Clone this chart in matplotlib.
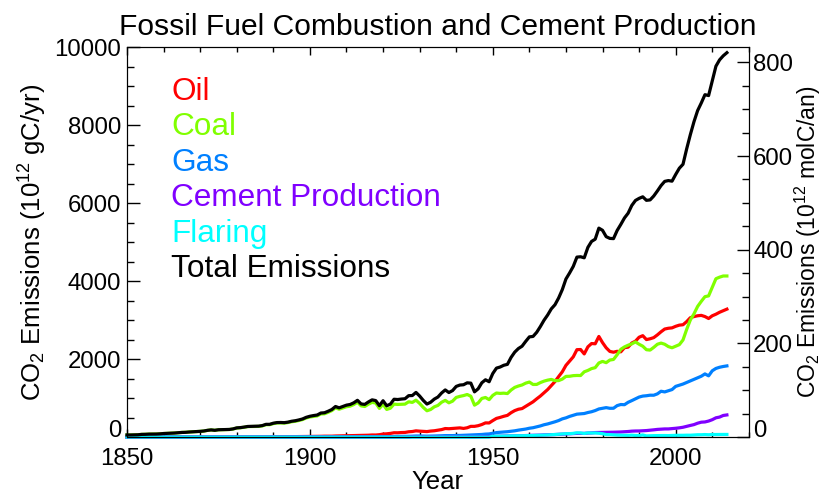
import matplotlib
matplotlib.use('Agg')
import matplotlib.pyplot as plt
from matplotlib.ticker import MultipleLocator

plt.rcParams['font.family'] = ['Liberation Sans', 'DejaVu Sans']
plt.rcParams['mathtext.fontset'] = 'custom'
plt.rcParams['mathtext.rm'] = 'Liberation Sans'
plt.rcParams['mathtext.it'] = 'Liberation Sans:italic'

# annual emissions 1850-2014, 10^12 gC/yr (one line per decade)
years = list(range(1850, 2015))

total = [
    54, 54, 57, 59, 69, 71, 76, 77, 78, 83,
    91, 95, 97, 104, 112, 119, 122, 130, 135, 142,
    147, 156, 173, 184, 174, 188, 191, 194, 196, 210,
    236, 243, 256, 272, 275, 277, 281, 295, 327, 327,
    356, 372, 374, 370, 383, 406, 419, 440, 465, 507,
    534, 552, 566, 617, 624, 663, 707, 784, 750, 785,
    819, 836, 879, 943, 850, 838, 901, 955, 936, 806,
    932, 803, 845, 970, 963, 975, 983, 1062, 1065, 1145,
    1053, 940, 847, 893, 973, 1027, 1130, 1209, 1142, 1192,
    1299, 1334, 1342, 1391, 1383, 1160, 1238, 1392, 1469, 1419,
    1630, 1768, 1796, 1841, 1865, 2043, 2178, 2270, 2330, 2454,
    2569, 2580, 2686, 2833, 2995, 3130, 3288, 3393, 3566, 3780,
    4053, 4208, 4376, 4614, 4623, 4596, 4864, 5016, 5074, 5357,
    5301, 5138, 5094, 5088, 5297, 5452, 5618, 5740, 5938, 6066,
    6120, 6160, 6070, 6080, 6180, 6310, 6448, 6556, 6576, 6561,
    6733, 6893, 6994, 7388, 7751, 8085, 8371, 8566, 8778, 8756,
    9137, 9508, 9671, 9775, 9855,
]

oil = [
    0, 0, 0, 0, 0, 0, 0, 0, 0, 0,
    0, 0, 0, 0, 0, 0, 0, 0, 0, 0,
    1, 1, 1, 1, 1, 1, 1, 2, 2, 3,
    3, 4, 4, 3, 4, 4, 5, 5, 5, 6,
    8, 9, 9, 10, 9, 11, 12, 13, 13, 14,
    16, 18, 19, 20, 23, 23, 23, 28, 30, 32,
    34, 36, 37, 41, 42, 45, 48, 54, 53, 61,
    78, 84, 94, 111, 110, 116, 119, 136, 143, 160,
    152, 147, 141, 154, 162, 176, 192, 219, 214, 222,
    229, 236, 222, 239, 275, 275, 292, 322, 364, 362,
    423, 479, 504, 533, 557, 625, 679, 714, 731, 789,
    849, 904, 980, 1052, 1137, 1219, 1323, 1423, 1551, 1673,
    1839, 1947, 2057, 2241, 2245, 2132, 2314, 2398, 2392, 2580,
    2422, 2289, 2196, 2176, 2199, 2186, 2293, 2306, 2412, 2459,
    2560, 2600, 2500, 2520, 2550, 2620, 2700, 2770, 2790, 2800,
    2840, 2870, 2880, 2960, 3060, 3090, 3110, 3120, 3090, 3040,
    3110, 3150, 3200, 3240, 3280,
]

coal = [
    54, 54, 57, 59, 69, 71, 76, 77, 78, 83,
    91, 95, 97, 104, 112, 119, 122, 130, 135, 142,
    146, 155, 172, 183, 173, 187, 190, 192, 194, 207,
    233, 239, 252, 269, 271, 272, 274, 287, 317, 318,
    345, 361, 363, 358, 372, 393, 405, 425, 450, 490,
    515, 530, 543, 593, 597, 635, 679, 751, 715, 747,
    778, 793, 834, 894, 800, 784, 843, 890, 873, 735,
    843, 709, 740, 845, 837, 842, 845, 905, 889, 947,
    863, 760, 675, 707, 775, 812, 893, 941, 879, 921,
    1017, 1044, 1064, 1092, 1047, 819, 875, 991, 1015, 960,
    1069, 1130, 1120, 1126, 1116, 1207, 1274, 1309, 1336, 1383,
    1411, 1349, 1350, 1397, 1434, 1460, 1478, 1447, 1448, 1486,
    1556, 1559, 1575, 1580, 1578, 1673, 1709, 1756, 1780, 1900,
    1940, 1908, 1975, 1990, 2112, 2251, 2312, 2355, 2389, 2440,
    2380, 2330, 2240, 2230, 2300, 2380, 2410, 2380, 2320, 2290,
    2330, 2370, 2490, 2760, 3000, 3160, 3350, 3480, 3600, 3620,
    3840, 4060, 4100, 4130, 4130,
]

gas = [
    0, 0, 0, 0, 0, 0, 0, 0, 0, 0,
    0, 0, 0, 0, 0, 0, 0, 0, 0, 0,
    0, 0, 0, 0, 0, 0, 0, 0, 0, 0,
    0, 0, 0, 0, 0, 1, 2, 3, 5, 3,
    3, 2, 2, 2, 2, 2, 2, 2, 2, 3,
    3, 4, 4, 4, 4, 5, 5, 5, 5, 6,
    7, 7, 8, 8, 8, 9, 10, 11, 10, 10,
    11, 10, 11, 14, 16, 17, 19, 21, 23, 28,
    28, 25, 24, 25, 28, 30, 34, 38, 37, 38,
    42, 42, 45, 50, 54, 59, 61, 67, 76, 81,
    97, 115, 124, 131, 138, 150, 161, 178, 192, 206,
    227, 240, 263, 286, 316, 337, 364, 392, 424, 467,
    493, 530, 560, 588, 597, 604, 630, 650, 680, 721,
    737, 755, 738, 739, 807, 835, 830, 892, 935, 982,
    1026, 1051, 1060, 1074, 1073, 1108, 1175, 1158, 1188, 1218,
    1300, 1330, 1360, 1400, 1440, 1480, 1520, 1560, 1620, 1570,
    1700, 1760, 1790, 1810, 1825,
]

cement = [
    0, 0, 0, 0, 0, 0, 0, 0, 0, 0,
    0, 0, 0, 0, 0, 0, 0, 0, 0, 0,
    0, 0, 0, 0, 0, 0, 0, 0, 0, 0,
    0, 0, 0, 0, 0, 0, 0, 0, 0, 0,
    0, 0, 0, 0, 0, 0, 0, 0, 0, 0,
    0, 0, 0, 0, 0, 0, 0, 0, 0, 0,
    0, 0, 0, 0, 0, 0, 0, 0, 0, 0,
    0, 0, 0, 0, 0, 0, 0, 0, 10, 10,
    10, 8, 7, 7, 8, 9, 11, 11, 12, 11,
    11, 12, 11, 10, 7, 7, 10, 12, 14, 16,
    18, 20, 22, 24, 27, 30, 32, 34, 36, 40,
    43, 45, 49, 51, 57, 59, 63, 65, 70, 74,
    78, 84, 89, 95, 96, 95, 103, 108, 116, 119,
    120, 121, 121, 125, 128, 131, 137, 143, 152, 156,
    157, 161, 167, 176, 186, 197, 203, 209, 209, 217,
    226, 237, 252, 276, 298, 320, 356, 382, 388, 411,
    446, 494, 513, 554, 568,
]

flaring = [
    0, 0, 0, 0, 0, 0, 0, 0, 0, 0,
    0, 0, 0, 0, 0, 0, 0, 0, 0, 0,
    0, 0, 0, 0, 0, 0, 0, 0, 0, 0,
    0, 0, 0, 0, 0, 0, 0, 0, 0, 0,
    0, 0, 0, 0, 0, 0, 0, 0, 0, 0,
    0, 0, 0, 0, 0, 0, 0, 0, 0, 0,
    0, 0, 0, 0, 0, 0, 0, 0, 0, 0,
    0, 0, 0, 0, 0, 0, 0, 0, 0, 0,
    0, 0, 0, 0, 0, 0, 0, 0, 0, 0,
    0, 0, 0, 0, 0, 0, 0, 0, 0, 0,
    23, 24, 26, 27, 27, 31, 32, 35, 35, 36,
    39, 42, 44, 47, 51, 55, 60, 66, 73, 80,
    87, 88, 95, 110, 107, 92, 108, 104, 106, 98,
    86, 65, 64, 58, 51, 49, 46, 44, 50, 41,
    39, 55, 30, 34, 37, 38, 39, 40, 38, 42,
    45, 45, 46, 49, 48, 55, 60, 60, 65, 60,
    66, 67, 68, 69, 68,
]

series = [
    ('Oil', oil, '#FF0000'),
    ('Coal', coal, '#80FF00'),
    ('Gas', gas, '#0080FF'),
    ('Cement Production', cement, '#8000FF'),
    ('Flaring', flaring, '#00FFFF'),
    ('Total Emissions', total, '#000000'),
]

fig = plt.figure(figsize=(8.22, 4.95), dpi=100)
ax = fig.add_axes([0.1545, 0.117, 0.9110 - 0.1545, 0.905 - 0.117])

for name, vals, col in series:
    ax.plot(years, vals, color=col, lw=2.3, clip_on=False)

ax.set_xlim(1850, 2020)
ax.set_ylim(0, 10000)
ax.xaxis.set_major_locator(MultipleLocator(50))
ax.xaxis.set_minor_locator(MultipleLocator(10))
ax.yaxis.set_major_locator(MultipleLocator(2000))
ax.yaxis.set_minor_locator(MultipleLocator(500))
ax.tick_params(axis='x', which='both', direction='in', top=True, labelsize=17.3, pad=8)
ax.tick_params(axis='x', which='major', length=6, width=1)
ax.tick_params(axis='x', which='minor', length=3.5, width=1)
ax.tick_params(axis='y', which='both', direction='in', right=False, labelsize=17.3, pad=4)
ax.tick_params(axis='y', which='major', length=9, width=1)
ax.tick_params(axis='y', which='minor', length=5, width=1)

ax.set_xlabel('Year', fontsize=18.5, labelpad=0)
ax.set_ylabel(r'CO$_2$ Emissions (10$^{12}$ gC/yr)', fontsize=18.5)
ax.yaxis.set_label_coords(-0.126, 0.5)
ax.set_title('Fossil Fuel Combustion and Cement Production', fontsize=21.6, pad=9)

# right axis in mol C (1 mol C = 12.01 g)
ax2 = ax.twinx()
ax2.set_ylim(0, 10000 / 12.01)
ax2.yaxis.set_major_locator(MultipleLocator(200))
ax2.yaxis.set_minor_locator(MultipleLocator(50))
ax2.tick_params(axis='y', which='both', direction='in', labelsize=17.3, pad=3)
ax2.tick_params(axis='y', which='major', length=9, width=1)
ax2.tick_params(axis='y', which='minor', length=5, width=1)
ax2.set_ylabel(r'CO$_2$ Emissions (10$^{12}$ molC/an)', fontsize=16.5)
ax2.yaxis.set_label_coords(1.0705, 0.5)

# coloured text legend
legend_y = [0.864, 0.774, 0.683, 0.592, 0.500, 0.410]
for (name, vals, col), yy in zip(series, legend_y):
    ax.text(0.071, yy, name, color=col, fontsize=22.7, transform=ax.transAxes, va='baseline')

# the "0" labels sit a little above the bottom corner, as in the original
fig.canvas.draw()
for t in ax.yaxis.get_major_ticks():
    if abs(t.get_loc()) < 1e-9:
        t.label1.set_verticalalignment('baseline')
for t in ax2.yaxis.get_major_ticks():
    if abs(t.get_loc()) < 1e-9:
        t.label2.set_verticalalignment('baseline')

plt.savefig('out.png', dpi=100)
